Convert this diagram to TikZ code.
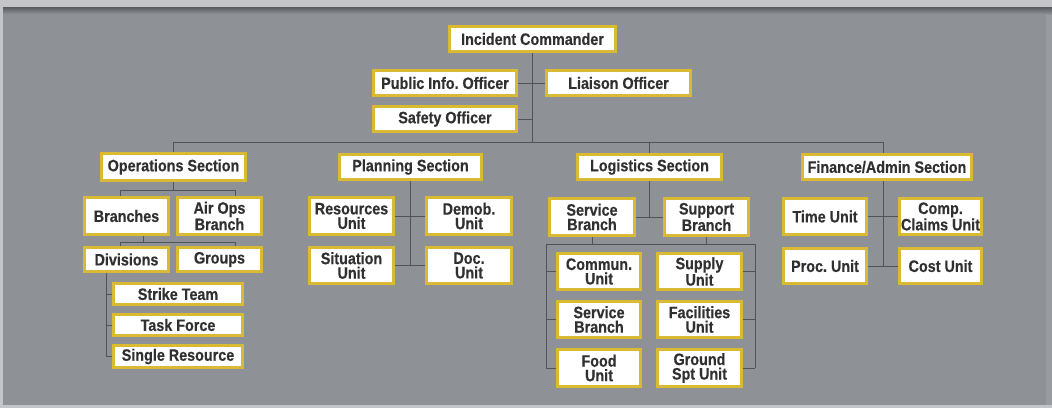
\documentclass[tikz,border=0pt]{standalone}
\usepackage{fontspec}
\usetikzlibrary{shadows}
\newfontfamily\bxf[FakeStretch=0.87,BoldFeatures={FakeBold=0.35},BoldFont={Liberation Sans Bold}]{Liberation Sans}
\definecolor{bgmain}{RGB}{142,145,150}
\definecolor{bgtop}{RGB}{196,197,200}
\definecolor{bgshadow}{RGB}{88,90,95}
\definecolor{bgright}{RGB}{152,155,160}
\definecolor{gold}{RGB}{218,186,50}
\definecolor{txt}{RGB}{48,48,50}
\definecolor{lnc}{RGB}{80,83,88}
\pgfdeclarelayer{bg}
\pgfsetlayers{bg,main}
\tikzset{
  bx/.style={draw=gold, line width=2.6pt, fill=white, inner sep=1pt, align=center,
    text=txt, font=\bxf\bfseries\fontsize{16.5}{14.5}\selectfont\frenchspacing,
    drop shadow={shadow xshift=1.6pt, shadow yshift=-1.6pt, opacity=0.45, fill=black}},
  ln/.style={draw=lnc, line width=0.9pt}
}
\newcommand\ibox[6]{\node[bx, minimum width={#4-#2-2.6}, minimum height={#5-#3-2.6}] (#1) at ({(#2+#4)/2},{(#3+#5)/2}) {#6};}
\begin{document}
\begin{tikzpicture}[x=1pt,y=-1pt]
\useasboundingbox (0,0) rectangle (1052,408);
\begin{pgfonlayer}{bg}
\fill[bgmain] (0,0) rectangle (1052,408);
\fill[bgright] (1046,7) rectangle (1052,408);
\fill[bgtop] (0,0) rectangle (1052,7);
\shade[top color=bgshadow, bottom color=bgmain] (3,7) rectangle (1052,14);
\fill[bgtop] (0,0) rectangle (3,408);
\fill[bgtop] (0,405) rectangle (1052,408);
\end{pgfonlayer}

% command staff
\ibox{ic}{448}{25}{617}{53}{Incident Commander}
\ibox{pio}{372}{69}{518}{97}{Public Info. Officer}
\ibox{lia}{545}{69}{692}{97}{Liaison Officer}
\ibox{saf}{372}{105}{518}{133}{Safety Officer}
% operations
\ibox{ops}{100}{152}{247}{182}{Operations Section}
\ibox{br}{83}{196}{170}{236}{Branches}
\ibox{air}{176}{196}{263}{236}{Air Ops\\Branch}
\ibox{div}{83}{246}{170}{273}{Divisions}
\ibox{grp}{176}{246}{263}{273}{Groups}
\ibox{st}{112}{282}{244}{306}{Strike Team}
\ibox{tf}{112}{313}{244}{337}{Task Force}
\ibox{sr}{112}{344}{244}{369}{Single Resource}
% planning
\ibox{pln}{338}{153}{483}{181}{Planning Section}
\ibox{res}{308}{196}{395}{236}{Resources\\Unit}
\ibox{dem}{425}{196}{513}{236}{Demob.\\Unit}
\ibox{sit}{308}{246}{395}{285}{Situation\\Unit}
\ibox{doc}{425}{246}{513}{285}{Doc.\\Unit}
% logistics
\ibox{log}{576}{153}{723}{181}{Logistics Section}
\ibox{sb}{548}{197}{636}{237}{Service\\Branch}
\ibox{spb}{663}{197}{750}{237}{Support\\Branch}
\ibox{com}{556}{252}{642}{291}{Commun.\\Unit}
\ibox{sup}{656}{252}{743}{291}{Supply\\Unit}
\ibox{sb2}{556}{300}{642}{339}{Service\\Branch}
\ibox{fac}{656}{300}{743}{339}{Facilities\\Unit}
\ibox{food}{556}{348}{642}{388}{Food\\Unit}
\ibox{gnd}{656}{348}{743}{388}{Ground\\Spt Unit}
% finance
\ibox{fin}{801}{153}{973}{181}{Finance/Admin Section}
\ibox{time}{782}{197}{868}{236}{Time Unit}
\ibox{comp}{898}{197}{983}{236}{Comp.\\Claims Unit}
\ibox{proc}{782}{247}{868}{285}{Proc. Unit}
\ibox{cost}{898}{247}{983}{285}{Cost Unit}

\coordinate (bus) at (0,142);
\coordinate (finx) at (883,266);
\coordinate (ob1) at (0,190);
\coordinate (ob2) at (0,242);
\coordinate (oL) at (120,0);
\coordinate (oR) at (235,0);
\coordinate (obx) at (143,0);
\coordinate (dv) at (106,0);
\coordinate (lbus) at (0,244);
\coordinate (lL) at (546,0);
\coordinate (lR) at (755,0);

\begin{pgfonlayer}{bg}
% command
\draw[ln] (ic.south) -- (ic.south |- bus);
\draw[ln] (pio.east) -- (lia.west);
\draw[ln] (saf.east) -- (saf.east -| ic.south);
% main bus
\draw[ln] (ops.north) -- (ops.north |- bus) -- (finx |- bus) -- (finx);
\draw[ln] (log.north |- bus) -- (log.north);
% operations
\draw[ln] (ops.south) -- (ops.south |- ob1);
\draw[ln] (oL |- ob1) -- (oR |- ob1);
\draw[ln] (oL |- ob1) -- (oL |- br.north);
\draw[ln] (oR |- ob1) -- (oR |- air.north);
\draw[ln] (obx |- br.south) -- (obx |- ob2);
\draw[ln] (oL |- ob2) -- (oR |- ob2);
\draw[ln] (oL |- ob2) -- (oL |- div.north);
\draw[ln] (oR |- ob2) -- (oR |- grp.north);
\draw[ln] (dv |- div.south) -- (dv |- sr.west);
\draw[ln] (dv |- st.west) -- (st.west);
\draw[ln] (dv |- tf.west) -- (tf.west);
\draw[ln] (dv |- sr.west) -- (sr.west);
% planning
\draw[ln] (pln.south) -- (pln.south |- sit.east);
\draw[ln] (res.east) -- (dem.west);
\draw[ln] (sit.east) -- (doc.west);
% logistics
\draw[ln] (log.south) -- (log.south |- sb.east);
\draw[ln] (sb.east) -- (spb.west);
\draw[ln] (sb.south) -- (sb.south |- lbus);
\draw[ln] (spb.south) -- (spb.south |- lbus);
\draw[ln] (lL |- lbus) -- (lR |- lbus);
\draw[ln] (lL |- lbus) -- (lL |- food.west);
\draw[ln] (lR |- lbus) -- (lR |- gnd.east);
\draw[ln] (lL |- com.west) -- (com.west);
\draw[ln] (lL |- sb2.west) -- (sb2.west);
\draw[ln] (lL |- food.west) -- (food.west);
\draw[ln] (lR |- sup.east) -- (sup.east);
\draw[ln] (lR |- fac.east) -- (fac.east);
\draw[ln] (lR |- gnd.east) -- (gnd.east);
% finance
\draw[ln] (time.east) -- (comp.west);
\draw[ln] (proc.east) -- (cost.west);
\end{pgfonlayer}
\end{tikzpicture}
\end{document}
